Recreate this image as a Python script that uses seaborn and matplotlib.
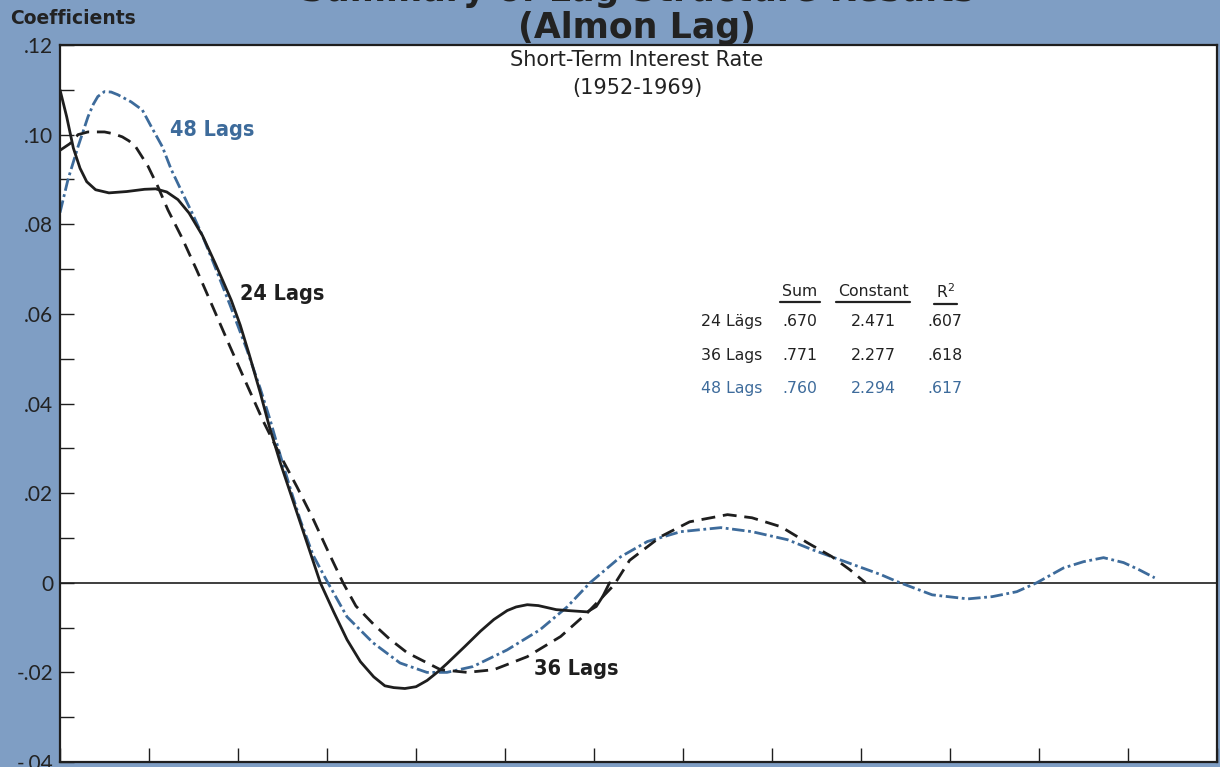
import matplotlib
matplotlib.use("Agg")
import matplotlib.pyplot as plt
from matplotlib import font_manager
from matplotlib.font_manager import FontProperties
import seaborn as sns
import pandas as pd
from matplotlib.lines import Line2D

# ---------------- data ----------------
lag24_x = [0, 0.3, 0.6, 0.9, 1.2, 1.6, 2.2, 3.0, 3.8, 4.3, 4.8, 5.3, 5.8, 6.4, 7.0, 7.3,
           7.7, 8.1, 8.5, 9.0, 9.4, 9.9, 10.8, 11.7, 12.3, 12.9, 13.5, 14.1, 14.6, 15.0,
           15.5, 16.0, 16.5, 17.0, 17.4, 18.2, 18.9, 19.5, 20.1, 20.5, 21.0, 21.5, 22.3,
           22.8, 23.7, 24.1, 24.4, 24.7]
lag24_y = [0.110, 0.104, 0.097, 0.0925, 0.0895, 0.0877, 0.0870, 0.0873, 0.0878, 0.0879,
           0.0872, 0.0855, 0.0825, 0.0775, 0.071, 0.0676, 0.063, 0.0575, 0.051, 0.0424,
           0.035, 0.0268, 0.0134, 0.0, -0.0065, -0.0127, -0.0176, -0.021, -0.023, -0.0234,
           -0.0236, -0.0232, -0.0218, -0.0198, -0.018, -0.0142, -0.0108, -0.0082, -0.0062,
           -0.0054, -0.0049, -0.0051, -0.006, -0.0062, -0.0065, -0.0053, -0.003, 0.0]

lag36_x = [0, 0.45, 0.81, 1.26, 2.0, 2.4, 2.8, 3.1, 3.4, 3.95, 4.4, 4.85, 5.48, 6.16,
           6.88, 7.64, 8.40, 9.12, 9.89, 10.65, 11.37, 12.04, 12.72, 13.3, 14.1, 14.8,
           15.6, 17.1, 18.3, 19.5, 21.0, 22.5, 23.7, 24.9, 25.6, 27.0, 28.3, 30.0, 31.1,
           32.4, 33.6, 34.7, 35.5, 36.2]
lag36_y = [0.0965, 0.098, 0.100, 0.1006, 0.1006, 0.1002, 0.0995, 0.0986, 0.0973, 0.093,
           0.0884, 0.0832, 0.077, 0.0696, 0.0614, 0.0527, 0.0442, 0.0362, 0.0285, 0.0214,
           0.0143, 0.0071, 0.0, -0.0052, -0.0093, -0.0125, -0.0156, -0.0194, -0.020,
           -0.0194, -0.0165, -0.012, -0.0067, -0.0005, 0.005, 0.0103, 0.0136, 0.0152,
           0.0145, 0.0125, 0.0089, 0.0058, 0.0029, 0.0]

lag48_x = [0, 0.36, 0.81, 1.26, 1.5, 1.7, 2.0, 2.3, 2.6, 3.2, 3.7, 4.1, 4.6, 5.0, 5.5,
           5.93, 6.38, 6.88, 7.64, 8.40, 8.99, 9.44, 9.89, 10.34, 10.79, 11.37, 11.82,
           12.04, 12.9, 14.07, 15.28, 16.49, 17.39, 18.56, 20.09, 21.57, 22.79, 23.82,
           25.2, 26.4, 27.9, 29.7, 31.1, 32.7, 33.8, 35.4, 36.9, 37.6, 39.2, 40.8, 41.9,
           43.0, 43.9, 45.1, 46.0, 46.9, 47.8, 48.5, 49.2]
lag48_y = [0.0826, 0.090, 0.0973, 0.104, 0.1068, 0.1085, 0.1096, 0.1095, 0.1089, 0.1073,
           0.1055, 0.1018, 0.0973, 0.0922, 0.087, 0.0826, 0.0777, 0.0716, 0.062, 0.052,
           0.0435, 0.0364, 0.0286, 0.0212, 0.0141, 0.0062, 0.002, 0.0, -0.0076, -0.0134,
           -0.0179, -0.020, -0.020, -0.0187, -0.015, -0.0105, -0.0054, 0.0, 0.0058, 0.0092,
           0.0114, 0.0123, 0.0114, 0.0096, 0.0074, 0.0045, 0.0018, 0.0003, -0.0027,
           -0.0036, -0.0031, -0.002, 0.0, 0.0033, 0.0047, 0.0056, 0.0045, 0.0029, 0.0011]

ytick_values = [0.12, 0.10, 0.08, 0.06, 0.04, 0.02, 0.0, -0.02, -0.04]
ytick_labels = [".12", ".10", ".08", ".06", ".04", ".02", "0", "-.02", "-.04"]
xtick_values = list(range(0, 53, 4))

table_cols = ["Sum", "Constant", "R$^2$"]
table_rows = ["24 Lägs", "36 Lags", "48 Lags"]
table_sum = [".670", ".771", ".760"]
table_const = ["2.471", "2.277", "2.294"]
table_r2 = [".607", ".618", ".617"]

# ---------------- style ----------------
BG = "#7f9ec4"
BLUE = "#3d6b9b"
BLACK = "#1e1e1e"
TXT = "#222222"

sns.set_theme(style="white")
plt.rcParams["font.family"] = ["Lato", "DejaVu Sans"]

# a condensed bold face for the curve labels, if one is installed
cands = []
for f in font_manager.fontManager.ttflist:
    fn = f.fname
    if ("ondensed" in fn or "Narrow" in fn) and ("Bold" in fn) \
            and "Oblique" not in fn and "Italic" not in fn and "Extra" not in fn \
            and "Semi" not in fn:
        cands.append(fn)
cands.sort(key=lambda p: (0 if "DejaVu" in p else 1 if "Liberation" in p else 2, p))
if cands:
    cond = dict(fontproperties=FontProperties(fname=cands[0], size=15.5))
else:
    cond = dict(family=["DejaVu Sans"], weight="bold", fontsize=13.5)

fig = plt.figure(figsize=(12.2, 7.67), dpi=100, facecolor=BG)
ax = fig.add_axes([60 / 1220, 5 / 767, 1157 / 1220, 717 / 767])
ax.set_facecolor("white")

df24 = pd.DataFrame({"lag": lag24_x, "coef": lag24_y})
df36 = pd.DataFrame({"lag": lag36_x, "coef": lag36_y})
df48 = pd.DataFrame({"lag": lag48_x, "coef": lag48_y})

ax.axhline(0, color=BLACK, lw=1.2, zorder=1)
sns.lineplot(data=df24, x="lag", y="coef", ax=ax, color=BLACK, lw=2.0,
             errorbar=None, zorder=3)
sns.lineplot(data=df36, x="lag", y="coef", ax=ax, color=BLACK, lw=2.0,
             linestyle=(0, (5, 2.8)), errorbar=None, zorder=3)
sns.lineplot(data=df48, x="lag", y="coef", ax=ax, color=BLUE, lw=2.0,
             linestyle=(0, (4.5, 1.3, 1.0, 1.3)), errorbar=None, zorder=2)
for ln in ax.lines:
    ln.set_solid_joinstyle("round")
    ln.set_dash_joinstyle("round")

ax.set_xlim(0, 52)
ax.set_ylim(-0.04, 0.12)
ax.set_xlabel("")
ax.set_ylabel("")
ax.set_xticks(xtick_values)
ax.set_xticklabels([""] * len(xtick_values))
ax.set_yticks(ytick_values)
ax.set_yticklabels(ytick_labels)
ax.set_yticks([v + 0.01 for v in ytick_values[1:]], minor=True)
ax.tick_params(axis="y", which="both", direction="in", length=10, width=1.0,
               color=BLACK, labelsize=15, labelcolor=TXT, pad=5, left=True)
ax.tick_params(axis="x", which="both", direction="in", length=10, width=1.0,
               color=BLACK, bottom=True)
for s in ax.spines.values():
    s.set_color(BLACK)
    s.set_linewidth(1.6)

# curve labels
ax.text(4.95, 0.101, "48 Lags", color=BLUE, va="center", ha="left", **cond)
ax.text(8.1, 0.0645, "24 Lags", color=BLACK, va="center", ha="left", **cond)
ax.text(21.3, -0.0192, "36 Lags", color=BLACK, va="center", ha="left", **cond)

# in-plot subtitle
sub = dict(family=["DejaVu Sans"], fontsize=15, color=TXT, ha="center", va="center")
ax.text(0.4987, 0.979, "Short-Term Interest Rate", transform=ax.transAxes, **sub)
ax.text(0.4987, 0.940, "(1952-1969)", transform=ax.transAxes, **sub)

# table
tab = dict(family=["DejaVu Sans"], fontsize=11.3, va="center")
col_x = [0.6396, 0.7027, 0.765]
row_y = [0.6137, 0.5676, 0.5216]
head_y = 0.656
heads = []
for cx, name in zip(col_x, table_cols):
    heads.append(ax.text(cx, head_y, name, transform=ax.transAxes, ha="center",
                         color=TXT, **tab))
for i, (lab, s, c, r) in enumerate(zip(table_rows, table_sum, table_const, table_r2)):
    col = BLUE if i == 2 else TXT
    ax.text(0.607, row_y[i], lab, transform=ax.transAxes, ha="right", color=col, **tab)
    for cx, val in zip(col_x, [s, c, r]):
        ax.text(cx, row_y[i], val, transform=ax.transAxes, ha="center", color=col, **tab)

fig.canvas.draw()
inv = ax.transAxes.inverted()
for t in heads:
    bb = t.get_window_extent()
    (x0, y0), (x1, y1) = inv.transform([(bb.x0 - 2, bb.y0 - 3), (bb.x1 + 2, bb.y1)])
    ax.add_line(Line2D([x0, x1], [y0, y0], transform=ax.transAxes, color=TXT, lw=1.6))

# figure titles
ttl = dict(family=["DejaVu Sans"], fontsize=25, weight="bold", color=TXT, ha="center")
fig.text(0.522, 1 - 1 / 767, "Summary of Lag Structure Results", va="baseline", **ttl)
fig.text(0.522, 0.963, "(Almon Lag)", va="center", **ttl)
fig.text(0.008, 0.976, "Coefficients", ha="left", va="center", family=["DejaVu Sans"],
         fontsize=13.5, weight="bold", color=TXT)

fig.savefig("out.png", dpi=100, facecolor=BG)
